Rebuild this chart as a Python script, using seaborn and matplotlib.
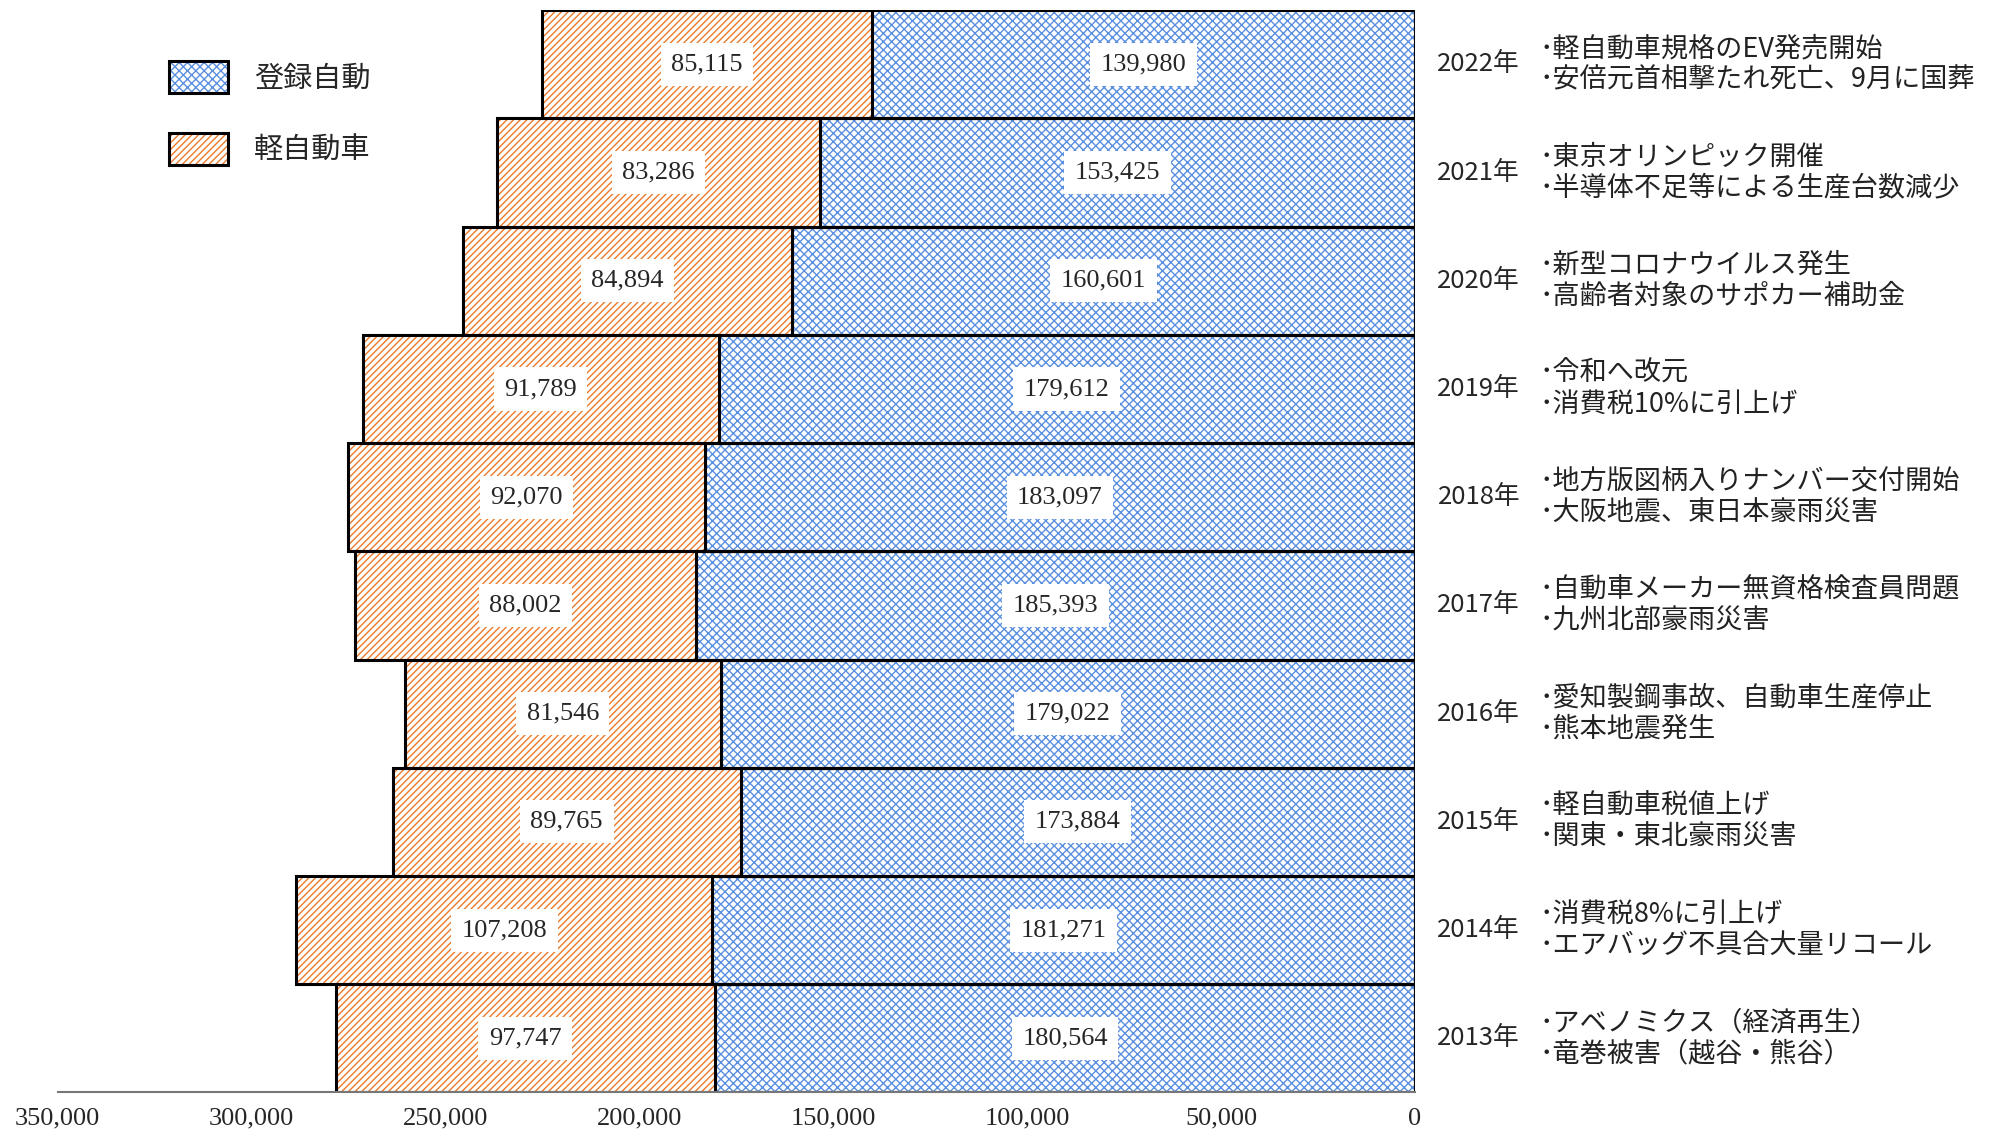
import matplotlib
matplotlib.use("Agg")
import matplotlib.pyplot as plt
import pandas as pd
import seaborn as sns
from matplotlib.patches import Patch

# data (top to bottom)
years = ["2022", "2021", "2020", "2019", "2018", "2017", "2016", "2015", "2014", "2013"]
registered = [139980, 153425, 160601, 179612, 183097, 185393, 179022, 173884, 181271, 180564]
kei = [85115, 83286, 84894, 91789, 92070, 88002, 81546, 89765, 107208, 97747]
notes = [
    ("･軽自動車規格のEV発売開始", "･安倍元首相撃たれ死亡、9月に国葬"),
    ("･東京オリンピック開催", "･半導体不足等による生産台数減少"),
    ("･新型コロナウイルス発生", "･高齢者対象のサポカー補助金"),
    ("･令和へ改元", "･消費税10%に引上げ"),
    ("･地方版図柄入りナンバー交付開始", "･大阪地震、東日本豪雨災害"),
    ("･自動車メーカー無資格検査員問題", "･九州北部豪雨災害"),
    ("･愛知製鋼事故、自動車生産停止", "･熊本地震発生"),
    ("･軽自動車税値上げ", "･関東・東北豪雨災害"),
    ("･消費税8%に引上げ", "･エアバッグ不具合大量リコール"),
    ("･アベノミクス（経済再生）", "･竜巻被害（越谷・熊谷）"),
]
series_names = ["登録自動", "軽自動車"]
xticks = [0, 50000, 100000, 150000, 200000, 250000, 300000, 350000]

df = pd.DataFrame({"year": years, "registered": registered, "kei": kei})
df["total"] = df["registered"] + df["kei"]

sns.set_theme(style="white")
plt.rcParams["font.family"] = ["Noto Sans CJK JP", "DejaVu Sans"]
plt.rcParams["hatch.linewidth"] = 1.0

BLUE = "#5b8fe0"
ORANGE = "#ec7a2a"
SERIF = "Liberation Serif"

fig = plt.figure(figsize=(19.93, 11.38), dpi=100)
ax = fig.add_axes([0.029, 0.040, 0.681, 0.951])

# hatched fills
sns.barplot(data=df, x="total", y="year", order=years, color="white", saturation=1,
            width=1.0, hatch="/////", edgecolor=ORANGE, linewidth=0, ax=ax, errorbar=None)
sns.barplot(data=df, x="registered", y="year", order=years, color="white", saturation=1,
            width=1.0, hatch="xxxx", edgecolor=BLUE, linewidth=0, ax=ax, errorbar=None)
# black outlines
sns.barplot(data=df, x="total", y="year", order=years, color="black", fill=False,
            width=1.0, linewidth=2.2, ax=ax, errorbar=None)
sns.barplot(data=df, x="registered", y="year", order=years, color="black", fill=False,
            width=1.0, linewidth=2.2, ax=ax, errorbar=None)

ax.set_xlim(350000, 0)
ax.set_ylim(len(years) - 0.5, -0.5)
ax.set_xlabel("")
ax.set_ylabel("")
ax.set_yticks([])
ax.set_xticks(xticks)
ax.set_xticklabels([f"{v:,}" for v in xticks], fontfamily=SERIF, fontsize=19)
ax.tick_params(axis="x", direction="in", length=9, width=1.2, color="#777777", pad=11)
for side in ["top", "left", "right"]:
    ax.spines[side].set_visible(False)
ax.spines["bottom"].set_color("#777777")
ax.spines["bottom"].set_linewidth(1.5)

box = dict(boxstyle="square,pad=0.4", facecolor="white", edgecolor="none")
ytrans = ax.get_yaxis_transform()
for i, row in df.iterrows():
    ax.text(row["registered"] / 2, i, f"{row['registered']:,}", ha="center", va="center",
            fontfamily=SERIF, fontsize=19, bbox=box, zorder=5)
    ax.text(row["registered"] + row["kei"] / 2, i, f"{row['kei']:,}", ha="center", va="center",
            fontfamily=SERIF, fontsize=19, bbox=box, zorder=5)
    ax.text(1.047, i, f"{row['year']}年", transform=ytrans, ha="center", va="center",
            fontsize=18.5, clip_on=False)
    ax.text(1.092, i, "\n".join(notes[i]), transform=ytrans, ha="left", va="center",
            fontsize=19.5, linespacing=1.2, color="#222222", clip_on=False)

handles = [
    (Patch(facecolor="white", edgecolor=BLUE, hatch="xxxx", linewidth=0),
     Patch(fill=False, edgecolor="black", linewidth=2.2)),
    (Patch(facecolor="white", edgecolor=ORANGE, hatch="/////", linewidth=0),
     Patch(fill=False, edgecolor="black", linewidth=2.2)),
]
fig.legend(handles, series_names, loc="upper left", bbox_to_anchor=(0.085, 0.946),
           frameon=False, fontsize=21, handlelength=2.0, handleheight=1.3,
           labelspacing=1.35, handletextpad=0.9, borderpad=0, borderaxespad=0)

fig.savefig("out.png", dpi=100)
